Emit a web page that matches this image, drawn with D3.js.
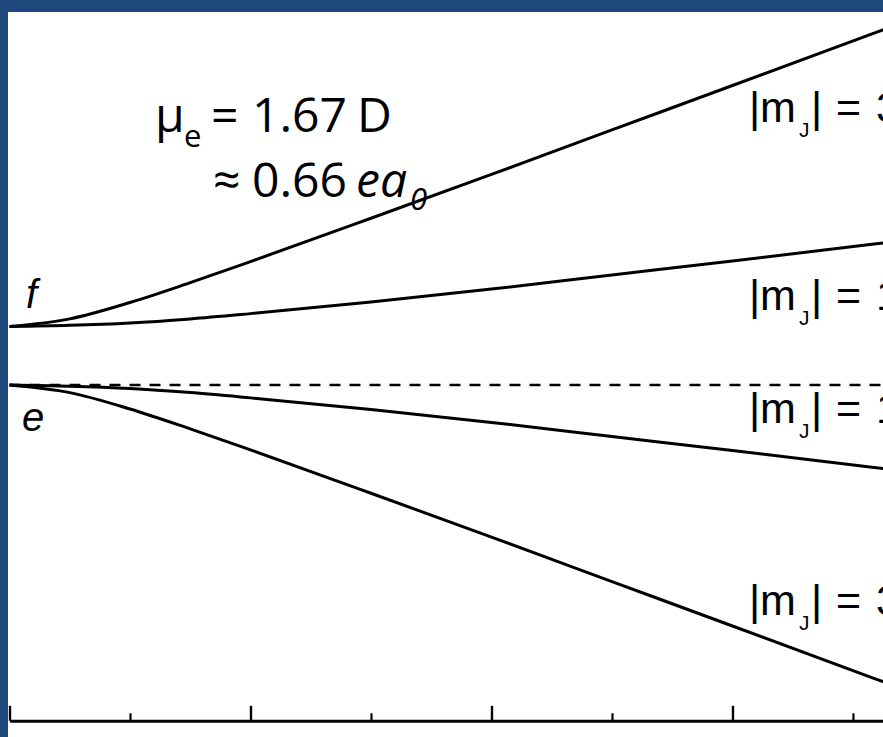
<!DOCTYPE html>
<html>
<head>
<meta charset="utf-8">
<script src="https://cdn.jsdelivr.net/npm/d3@7"></script>
<style>
  html, body { margin: 0; padding: 0; background: #1f497d; }
  svg { display: block; }
</style>
</head>
<body>
<svg id="chart" width="883" height="737"></svg>
<script>
// Electric field (arbitrary units) at which each level energy is sampled
const field = [0, 0.25, 0.5, 0.75, 1, 1.5, 2, 2.5, 3, 3.63];
// Level energies in units of the Lambda-doubling splitting (e = 0, f = 1)
const fMj3 = [1.00, 1.13, 1.41, 1.75, 2.11, 2.85, 3.60, 4.36, 5.12, 6.08];
const fMj1 = [1.00, 1.02, 1.06, 1.13, 1.22, 1.42, 1.64, 1.88, 2.12, 2.43];
const eMj1 = [0.00, -0.02, -0.06, -0.13, -0.22, -0.42, -0.64, -0.88, -1.12, -1.43];
const eMj3 = [0.00, -0.13, -0.41, -0.75, -1.11, -1.85, -2.60, -3.36, -4.12, -5.08];
// Zero-field e level, drawn dashed across the plot
const eLevel = 0;
// Field-axis ticks
const majorTicks = [0, 1, 2, 3];
const minorTicks = [0.5, 1.5, 2.5, 3.5];
// Curve labels: |mJ| value and the energy the label sits at
const labelMj = ["3", "1", "1", "3"];
const labelEnergy = [4.50, 1.28, -0.65, -3.93];

const svg = d3.select("#chart");
const W = 883, H = 737;

// Slide frame: dark blue edge with a white panel
svg.append("rect").attr("width", W).attr("height", H).attr("fill", "#1f497d");
svg.append("rect").attr("x", 8).attr("y", 12).attr("width", W - 8).attr("height", H - 12).attr("fill", "#ffffff");

const x = d3.scaleLinear().domain([0, 3.63]).range([9.5, 884.3]);
const y = d3.scaleLinear().domain([0, 1]).range([385, 326.5]);

const line = d3.line()
  .x((d, i) => x(field[i]))
  .y(d => y(d))
  .curve(d3.curveMonotoneX);

const plot = svg.append("g");

// Dashed zero-field e level
plot.append("line")
  .attr("x1", x(0)).attr("x2", x(3.63))
  .attr("y1", y(eLevel)).attr("y2", y(eLevel))
  .attr("stroke", "#000").attr("stroke-width", 2.4)
  .attr("stroke-dasharray", "11,9");

[fMj3, fMj1, eMj1, eMj3].forEach(series => {
  plot.append("path")
    .datum(series)
    .attr("d", line)
    .attr("fill", "none")
    .attr("stroke", "#000")
    .attr("stroke-width", 3)
    .attr("stroke-linejoin", "round");
});

// Field axis with inward ticks and no numbers
const axisY = 720.8;
const majorAxis = svg.append("g")
  .attr("transform", `translate(0,${axisY})`)
  .call(d3.axisTop(x).tickValues(majorTicks).tickSize(15).tickSizeOuter(0).tickFormat(""));
majorAxis.select(".domain").attr("stroke-width", 3);
majorAxis.selectAll(".tick line").attr("stroke-width", 2.4);

const minorAxis = svg.append("g")
  .attr("transform", `translate(0,${axisY})`)
  .call(d3.axisTop(x).tickValues(minorTicks).tickSize(7.5).tickFormat(""));
minorAxis.select(".domain").remove();
minorAxis.selectAll(".tick line").attr("stroke-width", 2.2);

// Parity labels at zero field
const sans = "Liberation Sans, Arial, sans-serif";
svg.append("text")
  .attr("x", 26).attr("y", 308)
  .attr("font-family", sans)
  .attr("font-style", "italic").attr("font-size", 40)
  .text("f");
svg.append("text")
  .attr("x", 22).attr("y", 431)
  .attr("font-family", sans)
  .attr("font-style", "italic").attr("font-size", 40)
  .text("e");

// |mJ| labels next to each curve (they run past the right edge of the slide)
labelMj.forEach((m, i) => {
  const base = y(labelEnergy[i]);
  const t = svg.append("text")
    .attr("y", base)
    .attr("font-family", sans)
    .attr("font-size", 43);
  t.append("tspan").attr("x", 749).text("|");
  t.append("tspan").attr("x", 760).text("m");
  t.append("tspan").attr("x", 799).attr("y", base + 15).attr("font-size", 21).text("J");
  t.append("tspan").attr("x", 811).attr("y", base).text("|");
  t.append("tspan").attr("x", 836).text("=");
  t.append("tspan").attr("x", 876).text(m);
});

// Dipole moment annotation
const note = "Open Sans, Carlito, sans-serif";
const mu = svg.append("text")
  .attr("y", 132)
  .attr("font-family", note)
  .attr("font-size", 48);
mu.append("tspan").attr("x", 155).text("μ");
mu.append("tspan").attr("x", 184).attr("y", 147).attr("font-size", 31).text("e");
mu.append("tspan").attr("x", 211).attr("y", 132).text("=");
mu.append("tspan").attr("x", 252).text("1.67");
mu.append("tspan").attr("x", 357).text("D");

const au = svg.append("text")
  .attr("y", 197)
  .attr("font-family", note)
  .attr("font-size", 48);
au.append("tspan").attr("x", 213).text("≈");
au.append("tspan").attr("x", 252).text("0.66");
au.append("tspan").attr("x", 356).attr("font-style", "italic").text("ea");
au.append("tspan").attr("x", 410).attr("y", 210).attr("font-style", "italic").attr("font-size", 31).text("0");
</script>
</body>
</html>
